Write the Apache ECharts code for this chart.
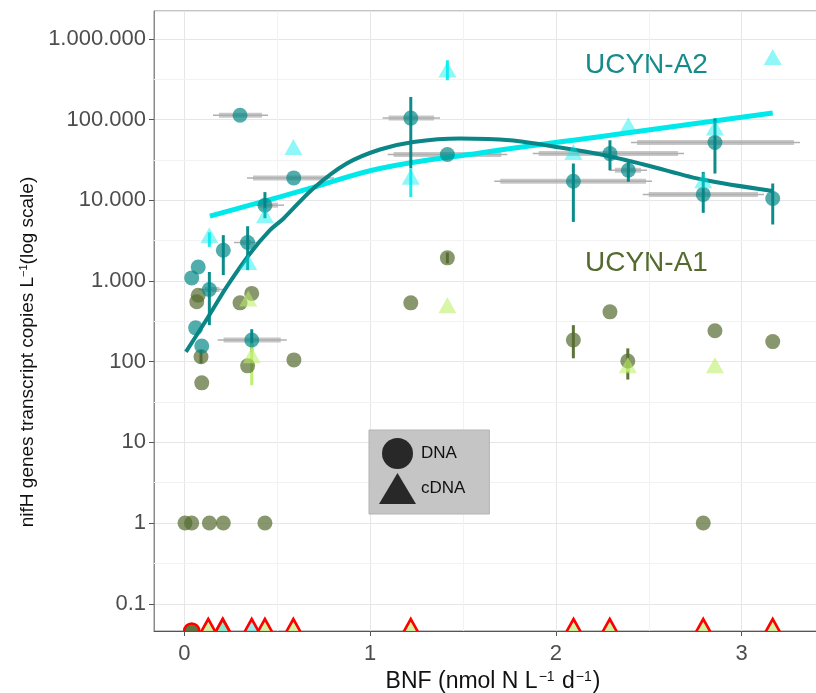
<!DOCTYPE html>
<html>
<head>
<meta charset="utf-8">
<script src="https://cdn.jsdelivr.net/npm/echarts@6/dist/echarts.min.js"></script>
<style>
  html, body { margin: 0; padding: 0; background: #fff; overflow: hidden; width: 816px; height: 693px; }
  #chart { width: 832px; height: 693px; }
</style>
</head>
<body>
<div id="chart"></div>
<script>
// ---------- data ----------
// UCYN-A2, DNA (teal circles)
const a2DnaX   = [0.300, 0.589, 0.434, 0.210, 0.341, 0.075, 0.040, 0.135, 0.061, 0.094, 0.363, 1.219, 1.416, 2.094, 2.291, 2.390, 2.856, 2.793, 3.167];
const a2DnaY   = [113000, 18900, 8670, 2400, 2990, 1490, 1090, 783, 262, 156, 185, 104000, 36800, 17200, 37800, 23500, 51900, 11800, 10500];
const a2DnaYLo = [null, null, 5980, 1180, 1360, null, null, 283, null, null, 131, 24900, null, 5380, 23600, 16900, 21400, 6970, 5000];
const a2DnaYHi = [null, null, 12600, 3690, 4760, null, null, 1290, null, null, 252, 190000, null, 28500, 55300, 29800, 103000, 22400, 16100];
const a2DnaXLo = [0.176, 0.359, 0.390, null, 0.289, null, null, 0.100, null, null, 0.201, 1.089, 1.116, 1.690, 1.897, 2.307, 2.426, 2.489, null];
const a2DnaXHi = [0.429, 0.784, 0.515, null, 0.370, null, null, 0.200, null, null, 0.530, 1.355, 1.717, 2.496, 2.668, 2.469, 3.292, 3.098, null];

// UCYN-A2, cDNA (cyan triangles)
const a2CdnaX   = [3.167, 2.390, 2.856, 2.793, 2.094, 1.416, 1.219, 0.587, 0.434, 0.135, 0.344];
const a2CdnaY   = [596000, 84900, 79400, 17700, 39600, 416000, 19500, 45700, 6520, 3690, 1720];
const a2CdnaYLo = [null, null, null, null, null, 306000, 10900, null, null, 2640, null];
const a2CdnaYHi = [null, null, null, null, null, 542000, 24900, null, null, 4000, null];

// UCYN-A1, DNA (olive circles)
const a1DnaX   = [0.075, 0.067, 0.363, 0.300, 0.090, 0.094, 0.341, 0.590, 1.416, 1.219, 2.094, 2.291, 2.856, 3.167, 2.387, 2.793, 0.004, 0.040, 0.135, 0.210, 0.434];
const a1DnaY   = [665, 551, 700, 535, 115, 54.6, 88.7, 105, 1930, 535, 185, 414, 241, 177, 102, 1, 1, 1, 1, 1, 1];
const a1DnaYLo = [null, null, null, null, 95, null, null, null, 1650, null, 110, null, null, null, 60, null, null, null, null, null, null];
const a1DnaYHi = [null, null, null, null, 140, null, null, null, 2250, null, 283, null, null, null, 146, null, null, null, null, null, null];

// UCYN-A1, cDNA (light green triangles)
const a1CdnaX   = [0.344, 0.363, 1.416, 2.387, 2.856];
const a1CdnaY   = [607, 120, 501, 90.5, 90.5];
const a1CdnaYLo = [null, 51, null, 75, null];
const a1CdnaYHi = [null, 169, null, 110, null];

// Non-detects, drawn on the bottom edge with red outline
const zeroLevel    = 0.046;
const zeroA1DnaX   = [0.040];
const zeroA1CdnaX  = [0.129, 0.207, 0.434, 0.587, 1.219, 2.095, 2.290, 2.793, 3.167];
const zeroA2CdnaX  = [0.207, 0.363];

// Fitted curves
const fitA2DnaX  = [0.009, 0.129, 0.228, 0.354, 0.461, 0.533, 0.694, 0.874, 1.053, 1.233, 1.484, 1.753, 2.022, 2.250, 2.489, 2.793, 3.167];
const fitA2DnaY  = [132, 359, 844, 2190, 4260, 5900, 14000, 28500, 42500, 52700, 58100, 55300, 45000, 36500, 27100, 17900, 13000];
const fitA2CdnaX = [0.138, 0.515, 0.694, 1.053, 1.592, 2.291, 3.167];
const fitA2CdnaY = [6340, 11000, 14400, 24700, 38500, 63800, 120500];

// Axes
const xMin = -0.163, xMax = 3.486;
const yMin = 0.0460, yMax = 2208000;
const halfDecadeExps = [-1, 0, 1, 2, 3, 4, 5];

// ---------- helpers ----------
const zip = (xs, ys) => xs.map((x, i) => [x, ys[i]]);
const vbars = (xs, lo, hi) => xs.map((x, i) => [x, lo[i], hi[i]]).filter(d => d[1] != null);
const hbars = (ys, lo, hi) => ys.map((y, i) => [lo[i], hi[i], y]).filter(d => d[0] != null);

const C_TEAL = 'rgba(0,134,134,0.85)';
const C_CYAN = 'rgba(0,236,236,0.55)';
const C_OLIVE = 'rgba(85,107,47,0.88)';
const C_LGREEN = 'rgba(188,238,104,0.72)';
const FONT = 'Liberation Sans, Arial, Helvetica, sans-serif';

function vbarSeries(data, color, width, z) {
  return {
    type: 'custom', z: z, clip: true, silent: true,
    encode: { x: 0, y: [1, 2] },
    data: data,
    renderItem: function (params, api) {
      const p1 = api.coord([api.value(0), api.value(1)]);
      const p2 = api.coord([api.value(0), api.value(2)]);
      return { type: 'line', shape: { x1: p1[0], y1: p1[1], x2: p2[0], y2: p2[1] },
               style: { stroke: color, lineWidth: width } };
    }
  };
}
function hbarSeries(data, z) {
  return {
    type: 'custom', z: z, clip: true, silent: true,
    encode: { x: [0, 1], y: 2 },
    data: data,
    renderItem: function (params, api) {
      const p1 = api.coord([api.value(0), api.value(2)]);
      const p2 = api.coord([api.value(1), api.value(2)]);
      return { type: 'group', children: [
        { type: 'line', shape: { x1: p1[0] - 4, y1: p1[1], x2: p2[0] + 4, y2: p2[1] },
          style: { stroke: 'rgba(150,150,150,0.75)', lineWidth: 1.5 } },
        { type: 'line', shape: { x1: p1[0] + 2, y1: p1[1], x2: p2[0] - 2, y2: p2[1] },
          style: { stroke: 'rgba(175,175,175,0.7)', lineWidth: 5 } }
      ]};
    }
  };
}
// non-detect markers, clipped by the plot panel
function zeroSeries(xs, shape, fill, z) {
  return {
    type: 'custom', z: z, clip: true, silent: true,
    encode: { x: 0, y: 1 },
    data: xs.map(x => [x, zeroLevel]),
    renderItem: function (params, api) {
      const p = api.coord([api.value(0), api.value(1)]);
      const style = { fill: fill, stroke: '#ff0000', lineWidth: 2.6, lineJoin: 'miter' };
      if (shape === 'circle') {
        return { type: 'circle', shape: { cx: p[0], cy: p[1], r: 7.5 }, style: style };
      }
      return { type: 'polygon', shape: { points: [[p[0], p[1] - 12], [p[0] - 10, p[1] + 6], [p[0] + 10, p[1] + 6]] },
               style: style };
    }
  };
}
function fmtY(v) {
  if (v >= 1) return Math.round(v).toString().replace(/\B(?=(\d{3})+(?!\d))/g, '.');
  return String(+v.toPrecision(3));
}

const chart = echarts.init(document.getElementById('chart'), null, { renderer: 'canvas' });

const option = {
  animation: false,
  backgroundColor: '#ffffff',
  textStyle: { fontFamily: FONT },
  grid: { left: 154, right: 0, top: 11, bottom: 62, show: true, borderColor: '#8a8a8a', borderWidth: 1,
          containLabel: false, outerBoundsMode: 'none' },
  xAxis: {
    type: 'value', min: xMin, max: xMax,
    name: '{t|BNF (nmol N L}{s|−1}{t| d}{s|−1}{t|)}',
    nameLocation: 'middle', nameGap: 34,
    nameTextStyle: { rich: {
      t: { fontSize: 23, color: '#111', fontFamily: FONT },
      s: { fontSize: 14, color: '#111', fontFamily: FONT, verticalAlign: 'top', padding: [0, 1, 0, 1] }
    }},
    axisLine: { show: true, onZero: false, lineStyle: { color: '#555', width: 1 } },
    axisTick: { show: true, length: 5, lineStyle: { color: '#555' } },
    axisLabel: { fontSize: 22, color: '#4d4d4d', margin: 12, showMinLabel: false, showMaxLabel: false, fontFamily: FONT },
    splitLine: { show: true, lineStyle: { color: '#e6e6e6', width: 1 } },
    minorTick: { show: false, splitNumber: 2 },
    minorSplitLine: { show: true, lineStyle: { color: '#f2f2f2', width: 1 } }
  },
  yAxis: {
    type: 'log', logBase: 10, min: yMin, max: yMax,
    name: '{t|nifH genes transcript copies L}{s|−1}{t|(log scale)}',
    nameLocation: 'middle', nameGap: 102, nameRotate: 90,
    nameTextStyle: { padding: [0, 62, 0, 0], rich: {
      t: { fontSize: 19, color: '#111', fontFamily: FONT },
      s: { fontSize: 11, color: '#111', fontFamily: FONT, verticalAlign: 'top' }
    }},
    axisLine: { show: true, onZero: false, lineStyle: { color: '#8a8a8a', width: 1 } },
    axisTick: { show: true, length: 5, lineStyle: { color: '#555' } },
    axisLabel: { fontSize: 22, color: '#4d4d4d', margin: 8, showMinLabel: false, showMaxLabel: false,
                 fontFamily: FONT, formatter: fmtY },
    splitLine: { show: true, lineStyle: { color: '#e6e6e6', width: 1 } },
    minorSplitLine: { show: false }
  },
  legend: {
    show: true, left: 369, top: 430, orient: 'vertical',
    data: [{ name: 'DNA', icon: 'circle' }, { name: 'cDNA', icon: 'triangle' }],
    itemWidth: 37, itemHeight: 31, itemGap: 4,
    padding: [8, 24, 10, 10],
    backgroundColor: '#c5c5c5', borderColor: '#b3b3b3', borderWidth: 1, borderRadius: 0,
    selectedMode: false,
    textStyle: { fontSize: 17, color: '#111', fontFamily: FONT }
  },
  graphic: [
    { type: 'text', left: 585, top: 51, silent: true,
      style: { text: 'UCYN-A2', fontSize: 28, fill: '#178a8a', fontFamily: FONT } },
    { type: 'text', left: 585, top: 249, silent: true,
      style: { text: 'UCYN-A1', fontSize: 28, fill: '#546a2e', fontFamily: FONT } }
  ],
  series: [
    // half-decade minor grid lines on the log axis
    { type: 'line', name: 'minor', data: [], z: 1, silent: true,
      markLine: { silent: true, symbol: 'none', z: 1, label: { show: false },
        lineStyle: { color: '#f2f2f2', width: 1, type: 'solid' },
        data: halfDecadeExps.map(k => ({ yAxis: Math.pow(10, k + 0.5) })) } },
    hbarSeries(hbars(a2DnaY, a2DnaXLo, a2DnaXHi), 2),
    { type: 'line', name: 'fitA2cDNA', data: zip(fitA2CdnaX, fitA2CdnaY), smooth: 0.4, showSymbol: false,
      symbol: 'none', z: 3, lineStyle: { color: '#00e9ea', width: 5 }, silent: true },
    { type: 'line', name: 'fitA2DNA', data: zip(fitA2DnaX, fitA2DnaY), smooth: 0.3, showSymbol: false,
      symbol: 'none', z: 3, lineStyle: { color: '#0b8585', width: 4 }, silent: true },
    vbarSeries(vbars(a2DnaX, a2DnaYLo, a2DnaYHi), 'rgba(0,134,134,0.95)', 3, 4),
    vbarSeries(vbars(a2CdnaX, a2CdnaYLo, a2CdnaYHi), 'rgba(0,236,236,0.9)', 3, 4),
    vbarSeries(vbars(a1DnaX, a1DnaYLo, a1DnaYHi), 'rgba(85,107,47,0.95)', 3, 4),
    vbarSeries(vbars(a1CdnaX, a1CdnaYLo, a1CdnaYHi), 'rgba(188,238,104,0.95)', 3, 4),
    { type: 'scatter', name: 'A1 DNA', data: zip(a1DnaX, a1DnaY), symbol: 'circle', symbolSize: 15, z: 5,
      itemStyle: { color: C_OLIVE } },
    { type: 'scatter', name: 'A1 cDNA', data: zip(a1CdnaX, a1CdnaY), symbol: 'triangle', symbolSize: [18, 16], z: 5,
      itemStyle: { color: C_LGREEN } },
    { type: 'scatter', name: 'A2 DNA', data: zip(a2DnaX, a2DnaY), symbol: 'circle', symbolSize: 15, z: 6,
      itemStyle: { color: C_TEAL } },
    { type: 'scatter', name: 'A2 cDNA', data: zip(a2CdnaX, a2CdnaY), symbol: 'triangle', symbolSize: [18, 16], z: 6,
      itemStyle: { color: C_CYAN } },
    zeroSeries(zeroA1DnaX, 'circle', 'rgba(85,107,47,0.92)', 7),
    zeroSeries(zeroA1CdnaX, 'triangle', 'rgba(200,240,140,0.8)', 7),
    zeroSeries(zeroA2CdnaX, 'triangle', 'rgba(90,225,225,0.6)', 8),
    // legend keys
    { type: 'scatter', name: 'DNA', data: [], symbol: 'circle', itemStyle: { color: '#000' } },
    { type: 'scatter', name: 'cDNA', data: [], symbol: 'triangle', itemStyle: { color: '#000' } }
  ]
};
chart.setOption(option);
</script>
</body>
</html>
